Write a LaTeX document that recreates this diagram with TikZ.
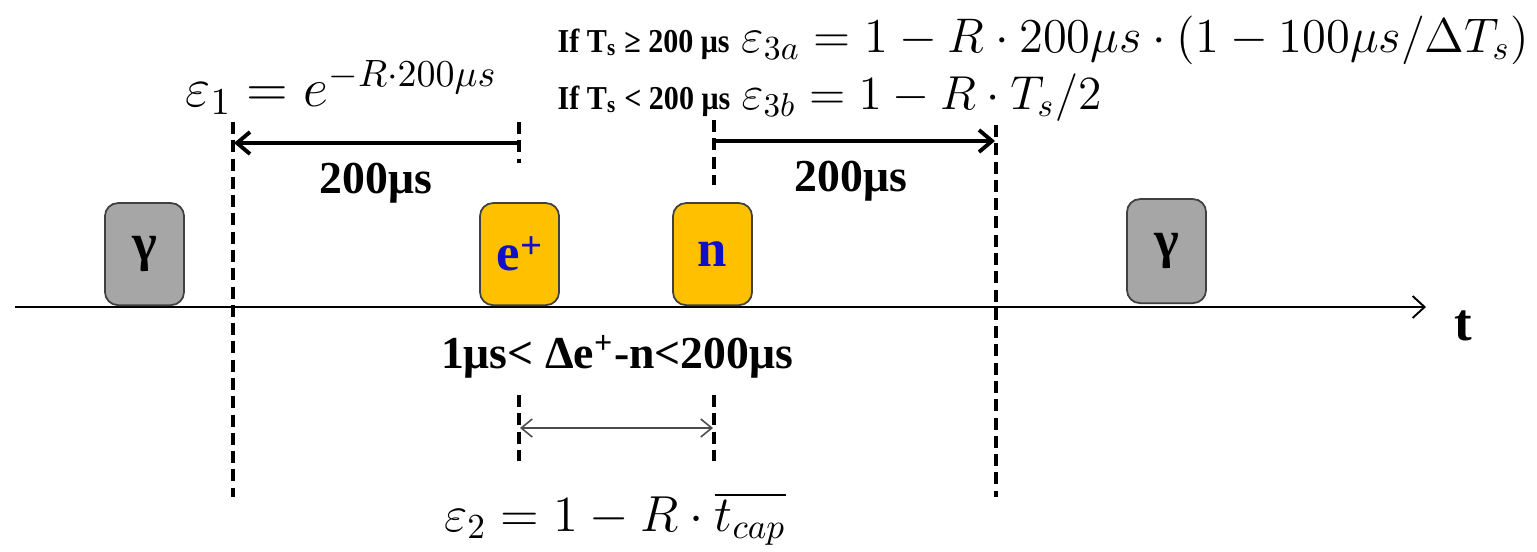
\documentclass[tikz,border=0pt]{standalone}
\usepackage{fontspec}
\setmainfont{Liberation Serif}
\usetikzlibrary{arrows.meta}
\definecolor{boxgray}{HTML}{A6A6A6}
\definecolor{boxorange}{HTML}{FFC000}
\definecolor{boxedge}{HTML}{404040}
\definecolor{labblue}{HTML}{1010C8}
\tikzset{
  evbox/.style={draw=boxedge, line width=0.5pt, rounded corners=0.13cm, minimum width=0.79cm, minimum height=1.02cm, inner sep=0pt, font=\fontsize{15}{15}\selectfont\bfseries},
  gbox/.style={evbox, fill=boxgray},
  obox/.style={evbox, fill=boxorange, text=labblue},
  dashline/.style={line width=1pt, dash pattern=on 3.4pt off 1.8pt},
  bigarrow/.style={line width=1.1pt, -{Straight Barb[length=0.13cm, width=0.22cm, line width=1.1pt]}},
  axisline/.style={line width=0.55pt, -{Straight Barb[length=0.12cm, width=0.22cm, line width=0.55pt]}},
  thinarrow/.style={line width=0.45pt, draw=black!70, {Straight Barb[length=0.11cm, width=0.18cm, line width=0.45pt]}-{Straight Barb[length=0.11cm, width=0.18cm, line width=0.45pt]}},
  boldlab/.style={font=\fontsize{13}{13}\selectfont\bfseries, inner sep=0pt},
  mathlab/.style={font=\fontsize{14.5}{17}\selectfont, inner sep=0pt},
  iflab/.style={font=\fontsize{9.5}{10}\selectfont\bfseries, inner sep=0pt},
}
\begin{document}
\begin{tikzpicture}[x=0.01cm, y=-0.01cm]
\useasboundingbox (0,0) rectangle (1537,551);
% axis
\coordinate (axL) at (15,307);
\coordinate (axR) at (1426,307);
\draw[axisline] (axL) -- (axR);
\node[font=\fontsize{15}{15}\selectfont\bfseries, inner sep=0pt] (t) at (1463,326) {t};
% boxes
\node[gbox, anchor=south] (g1) at (144.5,306) {γ};
\node[obox, anchor=south] (ep) at (519.5,306) {e\raisebox{0.5ex}{\fontsize{11}{11}\selectfont +}};
\node[obox, anchor=south] (nn) at (712.5,306) {n};
\node[gbox, anchor=south, minimum height=1.04cm] (g2) at (1166.5,304) {γ};
% dashed lines
\coordinate (d1t) at (233,122); \coordinate (d1b) at (233,497);
\coordinate (d4t) at (996,125); \coordinate (d4b) at (996,497);
\coordinate (d2t) at (519,122); \coordinate (d2b) at (519,163);
\coordinate (d3t) at (714,120); \coordinate (d3b) at (714,185);
\coordinate (m1t) at (519,395); \coordinate (m1b) at (519,461);
\coordinate (m2t) at (714,395); \coordinate (m2b) at (714,461);
\draw[dashline] (d1t) -- (d1b);
\draw[dashline] (d4t) -- (d4b);
\draw[dashline] (d2t) -- (d2b);
\draw[dashline] (d3t) -- (d3b);
\draw[dashline] (m1t) -- (m1b);
\draw[dashline] (m2t) -- (m2b);
% arrows
\coordinate (a1s) at (519,143); \coordinate (a1e) at (234,143);
\coordinate (a2s) at (714,141); \coordinate (a2e) at (995,141);
\draw[bigarrow] (a1s) -- (a1e);
\draw[bigarrow] (a2s) -- (a2e);
\coordinate (ms) at (520,428); \coordinate (me) at (713,428);
\draw[thinarrow] (ms) -- (me);
% labels
\node[boldlab] (l1) at (376,183) {200μs};
\node[boldlab] (l2) at (851,181) {200μs};
\node[boldlab] (l3) at (617,357) {1μs< Δe\textsuperscript{+}-n<200μs};
\node[mathlab, anchor=base west] (e1) at (185,106) {\scalebox{1.08}{$\varepsilon_1 = e^{-R\cdot 200\mu s}$}};
\node[mathlab, anchor=base] (e2) at (615,531) {$\varepsilon_2 = 1 - R\cdot \overline{t_{cap}}$};
\node[iflab, anchor=base west] (if1) at (557,52) {\scalebox{0.9}[1]{If T\textsubscript{s} ≥ 200 μs}};
\node[mathlab, anchor=base west] (e3a) at (741,52) {\scalebox{0.96}{$\varepsilon_{3a} = 1 - R\cdot 200\mu s\cdot(1-100\mu s/\Delta T_s)$}};
\node[iflab, anchor=base west] (if2) at (557,109) {\scalebox{0.9}[1]{If T\textsubscript{s} < 200 μs}};
\node[mathlab, anchor=base west] (e3b) at (741,109) {\scalebox{0.94}{$\varepsilon_{3b} = 1 - R\cdot T_s/2$}};
\end{tikzpicture}
\end{document}
